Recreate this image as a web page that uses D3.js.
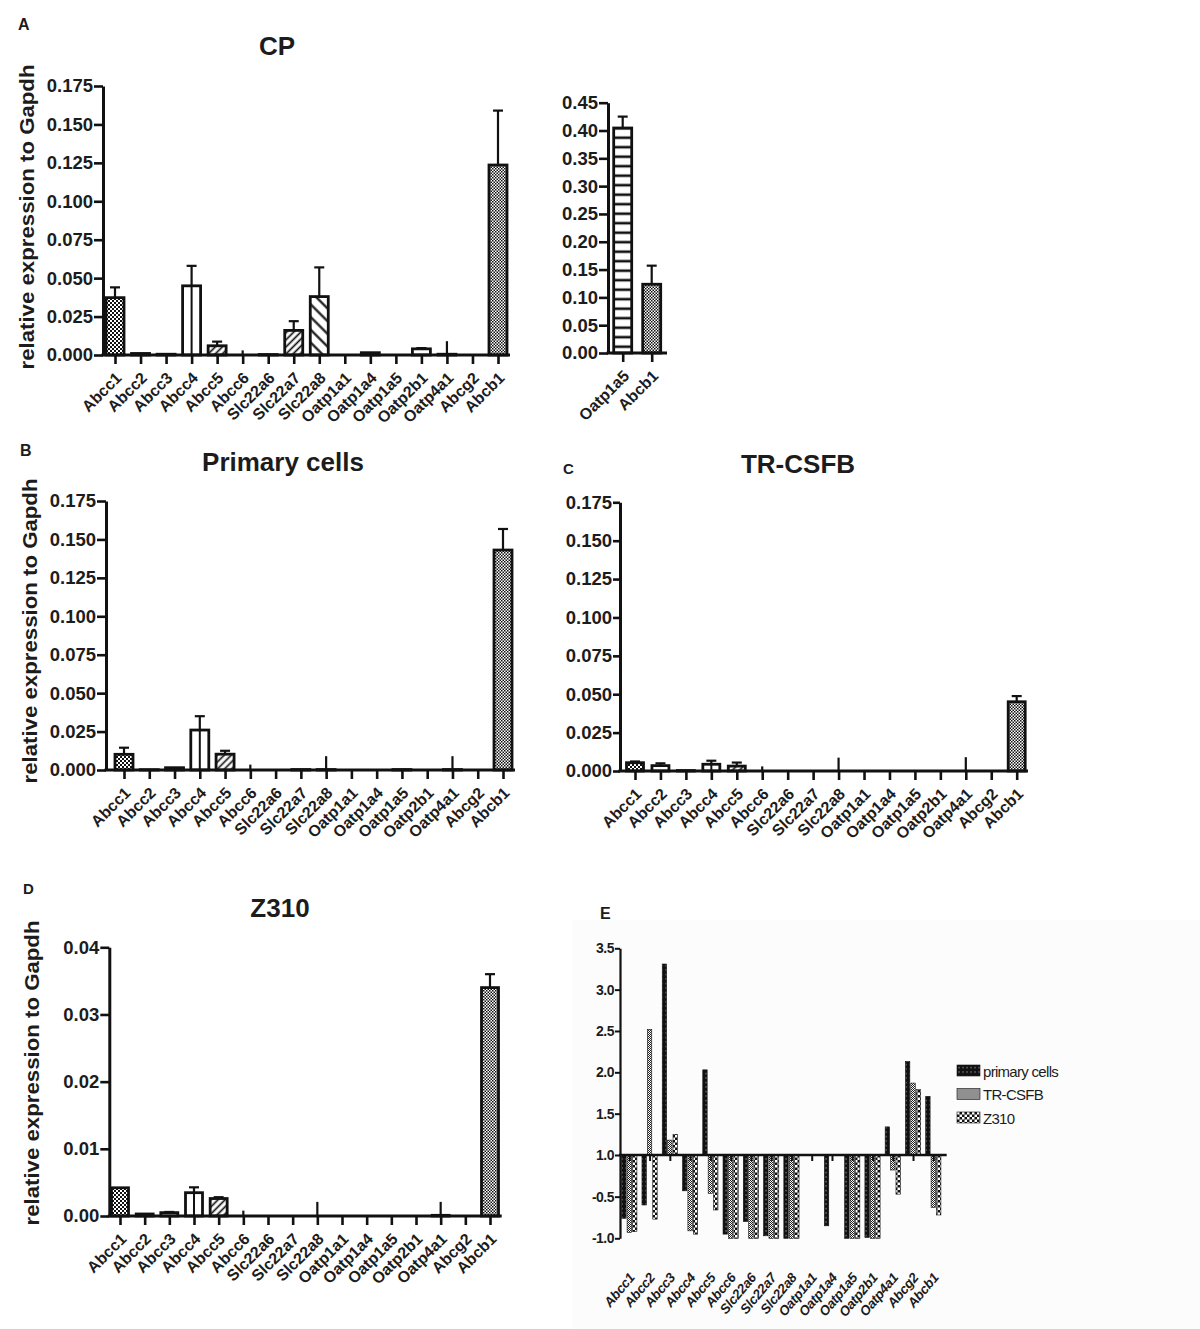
<!DOCTYPE html>
<html>
<head>
<meta charset="utf-8">
<script src="https://cdn.jsdelivr.net/npm/d3@7"></script>
<style>
body{margin:0;background:#fff}
text{font-family:"Liberation Sans",Arial,sans-serif;fill:#1c1c1c}
</style>
</head>
<body>
<script>
// genes on every x axis
const genes = ["Abcc1","Abcc2","Abcc3","Abcc4","Abcc5","Abcc6","Slc22a6","Slc22a7","Slc22a8",
               "Oatp1a1","Oatp1a4","Oatp1a5","Oatp2b1","Oatp4a1","Abcg2","Abcb1"]

// A: choroid plexus
const cpMean = [0.0373,0.001,0.0005,0.045,0.006,0,0.0003,0.016,0.038,0,0.0015,0,0.004,0.0005,0,0.1236]
const cpSem  = [0.0067,0.0005,0.0002,0.013,0.0027,0.003,0,0.006,0.019,0,0.0005,0,0.0005,0.0085,0,0.0354]
const cpSideGenes = ["Oatp1a5","Abcb1"]
const cpSideMean  = [0.4045,0.1236]
const cpSideSem   = [0.0205,0.0334]

// B: primary cells
const primaryMean = [0.0102,0.0002,0.0015,0.026,0.0103,0,0,0.0003,0.0003,0,0,0.0003,0,0.0003,0,0.1431]
const primarySem  = [0.0043,0,0.0005,0.009,0.0022,0.0035,0,0,0.0087,0,0,0,0,0.0087,0,0.0137]

// C: TR-CSFB
const trMean = [0.0054,0.0035,0.0003,0.0044,0.0032,0,0,0,0,0,0,0,0,0,0,0.0451]
const trSem  = [0.0008,0.0015,0,0.0023,0.0023,0.003,0,0,0.0087,0,0,0,0,0.009,0,0.0037]

// D: Z310
const z310Mean = [0.0042,0.0003,0.0005,0.00347,0.0026,0,0,0,0,0,0,0,0,0.0001,0,0.034]
const z310Sem  = [0,0,0.0001,0.0008,0.0002,0.0008,0,0,0.0021,0,0,0,0,0.002,0,0.002]

// E: fold change vs CP (down-regulation shown as negative)
const eSeries = ["primary cells","TR-CSFB","Z310"]
const foldPrimary = [-0.76,-0.60,3.31,-0.43,2.03,-0.95,-0.80,-0.97,-1.0,null,-0.85,-1.0,-0.99,1.34,2.13,1.71]
const foldTR      = [-0.93,2.52,1.18,-0.91,-0.46,-1.0,-1.0,-1.0,-1.0,null,null,-1.0,-1.0,-0.18,1.87,-0.63]
const foldZ310    = [-0.92,-0.77,1.25,-0.95,-0.66,-1.0,-1.0,-1.0,-1.0,null,null,-1.0,-1.0,-0.47,1.79,-0.72]
const eTicks = [-1,-0.5,1,1.5,2,2.5,3,3.5]

function chart(){
    const svg = d3.select("body").append("svg").attr("width",1200).attr("height",1329)
    const defs = svg.append("defs")

    function pat(id,w,h,rot){
        const p = defs.append("pattern").attr("id",id).attr("patternUnits","userSpaceOnUse")
                      .attr("width",w).attr("height",h)
        if(rot) p.attr("patternTransform",`rotate(${rot})`)
        return p
    }
    let p = pat("checkA",4,4)
    p.append("rect").attr("width",4).attr("height",4).attr("fill","#fff")
    p.append("rect").attr("width",2).attr("height",2).attr("fill","#111")
    p.append("rect").attr("x",2).attr("y",2).attr("width",2).attr("height",2).attr("fill","#111")
    p = pat("checkB",3,3)
    p.append("rect").attr("width",3).attr("height",3).attr("fill","#fff")
    p.append("rect").attr("width",1.5).attr("height",1.5).attr("fill","#111")
    p.append("rect").attr("x",1.5).attr("y",1.5).attr("width",1.5).attr("height",1.5).attr("fill","#111")
    p = pat("hatchF",5,5,45)
    p.append("rect").attr("width",5).attr("height",5).attr("fill","#fff")
    p.append("line").attr("x1",2.5).attr("x2",2.5).attr("y1",0).attr("y2",5).attr("stroke","#111").attr("stroke-width",1.7)
    p = pat("hatchB",9,9,-45)
    p.append("rect").attr("width",9).attr("height",9).attr("fill","#fff")
    p.append("line").attr("x1",4.5).attr("x2",4.5).attr("y1",0).attr("y2",9).attr("stroke","#111").attr("stroke-width",2.2)
    p = pat("hlines",10,9.5)
    p.append("rect").attr("width",10).attr("height",9.5).attr("fill","#fff")
    p.append("line").attr("x1",0).attr("x2",10).attr("y1",4.7).attr("y2",4.7).attr("stroke","#111").attr("stroke-width",2.6)
    p = pat("ePrim",4,4.5)
    p.append("rect").attr("width",4).attr("height",4.5).attr("fill","#111")
    p.append("rect").attr("x",1.5).attr("y",2).attr("width",1.1).attr("height",1.1).attr("fill","#bbb")
    p = pat("eTR",2,2)
    p.append("rect").attr("width",2).attr("height",2).attr("fill","#fff")
    p.append("rect").attr("width",1).attr("height",1).attr("fill","#222")
    p.append("rect").attr("x",1).attr("y",1).attr("width",1).attr("height",1).attr("fill","#222")
    p = pat("eZ",5,5)
    p.append("rect").attr("width",5).attr("height",5).attr("fill","#111")
    p.append("rect").attr("width",2.5).attr("height",2.5).attr("fill","#fff")
    p.append("rect").attr("x",2.5).attr("y",2.5).attr("width",2.5).attr("height",2.5).attr("fill","#fff")

    const fillOf = {Abcc1:"url(#checkA)",Abcc5:"url(#hatchF)",Slc22a7:"url(#hatchF)",
                    Slc22a8:"url(#hatchB)",Abcb1:"url(#checkB)",Oatp1a5:"url(#hlines)"}

    // faint backdrop of panel E
    svg.append("rect").attr("x",572).attr("y",920).attr("width",628).attr("height",409).attr("fill","#fcfcfc")

    function barPanel(c){
        const g = svg.append("g")
        const x = d3.scalePoint().domain(c.cats).range([c.first,c.last])
        const y = d3.scaleLinear().domain([0,c.max]).range([c.base,c.top])
        const rows = c.cats.map((k,i)=>({k,m:c.mean[i],s:c.sem[i]}))

        g.append("g").attr("transform",`translate(${c.x0},0)`)
         .call(d3.axisLeft(y).tickValues(d3.range(0,c.max+c.step/2,c.step)).tickFormat(d3.format(c.fmt))
               .tickSize(c.tick||9).tickSizeOuter(0).tickPadding(1))
         .call(a=>a.select(".domain").attr("stroke","#111").attr("stroke-width",3))
         .call(a=>a.selectAll(".tick line").attr("stroke","#111").attr("stroke-width",2.6))
         .call(a=>a.selectAll("text").attr("font-size",18.5).attr("font-weight","bold")
                   .attr("fill","#1c1c1c").attr("font-family","Liberation Sans, Arial"))

        // error bars
        const eb = g.append("g").attr("stroke","#111").attr("stroke-width",2.2)
        rows.filter(d=>d.s>0).forEach(d=>{
            eb.append("line").attr("x1",x(d.k)).attr("x2",x(d.k)).attr("y1",y(d.m)).attr("y2",y(d.m+d.s))
            if(d.m>c.max*0.01)
                eb.append("line").attr("x1",x(d.k)-5).attr("x2",x(d.k)+5).attr("y1",y(d.m+d.s)).attr("y2",y(d.m+d.s))
        })

        g.append("g").selectAll("rect").data(rows.filter(d=>d.m>0)).join("rect")
         .attr("x",d=>x(d.k)-c.bw/2).attr("width",c.bw)
         .attr("y",d=>y(d.m)).attr("height",d=>c.base-y(d.m))
         .attr("fill",d=>fillOf[d.k]||"#fff").attr("stroke","#111").attr("stroke-width",2.8)

        g.selectAll(".mid").data(rows.filter(d=>d.k=="Abcc4"&&d.m>0)).join("line")
         .attr("x1",d=>x(d.k)).attr("x2",d=>x(d.k)).attr("y1",d=>y(d.m)).attr("y2",c.base)
         .attr("stroke","#111").attr("stroke-width",2)

        // x axis
        g.append("line").attr("x1",c.x0-1.5).attr("x2",c.xEnd).attr("y1",c.base).attr("y2",c.base)
         .attr("stroke","#111").attr("stroke-width",3)
        g.append("g").attr("transform",`translate(0,${c.base})`)
         .call(d3.axisBottom(x).tickSize(9).tickSizeOuter(0))
         .call(a=>a.select(".domain").remove())
         .call(a=>a.selectAll(".tick line").attr("stroke","#111").attr("stroke-width",2.6))
         .call(a=>a.selectAll("text").attr("x",0).attr("y",0).attr("dy",0)
                   .attr("transform","translate(7,24) rotate(-45)").attr("text-anchor","end")
                   .attr("font-size",16).attr("font-weight","bold").attr("fill","#1c1c1c")
                   .attr("font-family","Liberation Sans, Arial"))

        if(c.title) svg.append("text").attr("x",c.tx).attr("y",c.ty).attr("text-anchor","middle")
                       .attr("font-size",26).attr("font-weight","bold").text(c.title)
        if(c.ylab) svg.append("text").attr("transform",`translate(${c.ylab[0]},${c.ylab[1]}) rotate(-90)`)
                      .attr("text-anchor","middle").attr("font-size",21).attr("font-weight","bold")
                      .attr("textLength",305).attr("lengthAdjust","spacingAndGlyphs")
                      .text("relative expression to Gapdh")
    }

    barPanel({cats:genes,mean:cpMean,sem:cpSem,x0:103,xEnd:510,first:115,last:498,top:86,base:355,
              max:0.175,step:0.025,fmt:".3f",bw:18,title:"CP",tx:277,ty:55,ylab:[34,217]})
    barPanel({cats:cpSideGenes,mean:cpSideMean,sem:cpSideSem,x0:608,xEnd:667,first:622.7,last:651.7,
              top:102.7,base:353,max:0.45,step:0.05,fmt:".2f",bw:18})
    barPanel({cats:genes,mean:primaryMean,sem:primarySem,x0:106,xEnd:515,first:124,last:503,top:501,base:770,
              max:0.175,step:0.025,fmt:".3f",bw:18,title:"Primary cells",tx:283,ty:471,ylab:[37,631]})
    barPanel({cats:genes,mean:trMean,sem:trSem,x0:620,xEnd:1028,first:635,last:1016.7,top:502.3,base:771,
              max:0.175,step:0.025,fmt:".3f",bw:17,tick:7,title:"TR-CSFB",tx:798,ty:473})
    barPanel({cats:genes,mean:z310Mean,sem:z310Sem,x0:109.3,xEnd:501.7,first:120,last:490,top:947.3,base:1216,
              max:0.04,step:0.01,fmt:".2f",bw:17,title:"Z310",tx:280,ty:917,ylab:[39,1073]})

    // panel E
    const xE = d3.scalePoint().domain(genes).range([629.3,933.3])
    const yE = d3.scaleLinear().domain([-1,0,1,3.5]).range([1238.3,1155,1155,948.3])
    const eBase = yE(1)
    const eFill = ["url(#ePrim)","url(#eTR)","url(#eZ)"]
    const eData = [foldPrimary,foldTR,foldZ310]
    const gE = svg.append("g")
    eData.forEach((ser,s)=>{
        gE.append("g").selectAll("rect")
          .data(genes.map((k,i)=>({k,v:ser[i]})).filter(d=>d.v!=null))
          .join("rect")
          .attr("x",d=>xE(d.k)+(s-1)*5.4-2.2).attr("width",4.4)
          .attr("y",d=>Math.min(yE(d.v),eBase)).attr("height",d=>Math.abs(yE(d.v)-eBase))
          .attr("fill",eFill[s]).attr("stroke","#111").attr("stroke-width",0.6)
    })
    gE.append("g").attr("transform","translate(620,0)")
      .call(d3.axisLeft(yE).tickValues(eTicks).tickFormat(d=>d.toFixed(1)).tickSize(5).tickSizeOuter(0).tickPadding(1))
      .call(a=>a.select(".domain").attr("stroke","#111").attr("stroke-width",2.2))
      .call(a=>a.selectAll(".tick line").attr("stroke","#111").attr("stroke-width",2))
      .call(a=>a.selectAll("text").attr("font-size",14).attr("font-weight","bold").attr("fill","#1c1c1c")
                .attr("letter-spacing",-0.5).attr("font-family","Liberation Sans, Arial"))
    gE.append("line").attr("x1",619).attr("x2",946.7).attr("y1",eBase).attr("y2",eBase)
      .attr("stroke","#111").attr("stroke-width",2.6)
    gE.append("g").attr("transform",`translate(0,${eBase})`)
      .call(d3.axisBottom(xE).tickSize(6).tickFormat(""))
      .call(a=>a.select(".domain").remove())
      .call(a=>a.selectAll(".tick line").attr("stroke","#111").attr("stroke-width",2))
    gE.append("g").selectAll("text").data(genes).join("text")
      .attr("transform",d=>`translate(${xE(d)+6},1278) rotate(-50)`)
      .attr("text-anchor","end").attr("font-size",13.5).attr("font-weight","bold").attr("font-style","italic")
      .attr("letter-spacing",-0.3).text(d=>d)

    // legend
    const lg = gE.append("g").selectAll("g").data(eSeries).join("g")
                 .attr("transform",(d,i)=>`translate(957,${1065+i*23.5})`)
    lg.append("rect").attr("width",23).attr("height",11).attr("fill",(d,i)=>eFill[i])
      .attr("stroke","#111").attr("stroke-width",0.6)
    lg.append("text").attr("x",26).attr("y",11.5).attr("font-size",15).attr("letter-spacing",-0.7).text(d=>d)

    // panel letters
    const letters = [["A",18,30,16],["B",20,456,16],["C",563,474,15],["D",23,894,15],["E",600,919,16]]
    svg.selectAll(".letter").data(letters).join("text")
       .attr("x",d=>d[1]).attr("y",d=>d[2]).attr("font-size",d=>d[3]).attr("font-weight","bold").text(d=>d[0])
}

chart()
</script>
</body>
</html>
